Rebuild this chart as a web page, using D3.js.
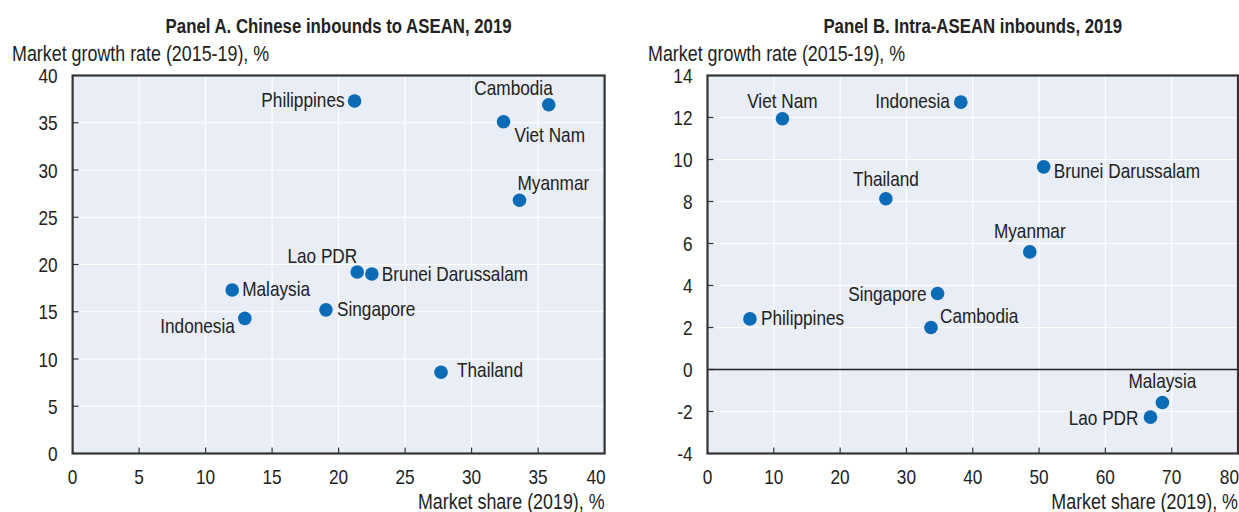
<!DOCTYPE html>
<html><head><meta charset="utf-8">
<script src="https://cdn.jsdelivr.net/npm/d3@7/dist/d3.min.js"></script>
<style>
body{margin:0;background:#fff;}
svg text{font-family:"Liberation Sans",Arial,sans-serif;fill:#222;}
</style></head>
<body><svg id="c" width="1239" height="512"></svg>
<script>
// Panel A. Chinese inbounds to ASEAN, 2019
const countriesA = ["Philippines","Cambodia","Viet Nam","Myanmar","Lao PDR","Brunei Darussalam","Malaysia","Indonesia","Singapore","Thailand"];
const shareA  = [21.2, 35.8, 32.4, 33.6, 21.4, 22.5, 12.0, 12.95, 19.05, 27.7];
const growthA = [37.3, 36.9, 35.1, 26.8, 19.2, 19.0, 17.3, 14.3, 15.2, 8.6];
const xTicksA = [0,5,10,15,20,25,30,35,40];
const yTicksA = [0,5,10,15,20,25,30,35,40];

// Panel B. Intra-ASEAN inbounds, 2019
const countriesB = ["Viet Nam","Indonesia","Brunei Darussalam","Thailand","Myanmar","Singapore","Philippines","Cambodia","Malaysia","Lao PDR"];
const shareB  = [11.3, 38.2, 50.7, 26.9, 48.6, 34.7, 6.4, 33.7, 68.6, 66.8];
const growthB = [11.94, 12.73, 9.65, 8.13, 5.6, 3.62, 2.41, 2.0, -1.57, -2.27];
const xTicksB = [0,10,20,30,40,50,60,70,80];
const yTicksB = [-4,-2,0,2,4,6,8,10,12,14];

// label placement (anchor, dx, dy) — layout only
const labA = {"Philippines":["end",-10,6],"Cambodia":["end",4,-10],"Viet Nam":["start",11,20],"Myanmar":["start",-2,-10],
  "Lao PDR":["end",0,-9],"Brunei Darussalam":["start",10,7],"Malaysia":["start",10,6],"Indonesia":["end",-10,15],
  "Singapore":["start",11,6],"Thailand":["start",16,5]};
const labB = {"Viet Nam":["middle",0,-11],"Indonesia":["end",-11,6],"Brunei Darussalam":["start",10,11],"Thailand":["middle",0,-13],
  "Myanmar":["middle",0,-14],"Singapore":["end",-11,8],"Philippines":["start",11,6],"Cambodia":["start",9,-5],
  "Malaysia":["middle",0,-14],"Lao PDR":["end",-12,8]};

const svg = d3.select("#c");
const BLUE = "#0b6bb6";
const NARROW = 0.82, FS = 21, FS_AX = 21.8, FS_T = 20.5;

function put(g, x, y, str, anchor, size, weight){
  g.append("text").attr("transform",`translate(${x},${y}) scale(${NARROW},1)`)
    .attr("text-anchor",anchor||"start").attr("font-size",size||FS).attr("font-weight",weight||"normal").text(str);
}

function panel(o){
  const g = svg.append("g");
  const x = d3.scaleLinear().domain(o.xd).range([o.left, o.right]);
  const y = d3.scaleLinear().domain(o.yd).range([o.bottom, o.top]);
  g.append("rect").attr("x",o.left).attr("y",o.top).attr("width",o.right-o.left).attr("height",o.bottom-o.top).attr("fill","#e8edf6");
  g.selectAll(".vg").data(o.xt.slice(1,-1)).join("line").attr("x1",d=>x(d)).attr("x2",d=>x(d)).attr("y1",o.top).attr("y2",o.bottom).attr("stroke","#fff").attr("stroke-width",1.2);
  g.selectAll(".hg").data(o.yt.slice(1,-1)).join("line").attr("y1",d=>y(d)).attr("y2",d=>y(d)).attr("x1",o.left).attr("x2",o.right).attr("stroke","#fff").attr("stroke-width",1.2);
  g.selectAll(".xt").data(o.xt.slice(1,-1)).join("line").attr("x1",d=>x(d)).attr("x2",d=>x(d)).attr("y1",o.bottom).attr("y2",o.bottom-6).attr("stroke","#333").attr("stroke-width",1.2);
  g.selectAll(".yt").data(o.yt.slice(1,-1)).join("line").attr("y1",d=>y(d)).attr("y2",d=>y(d)).attr("x1",o.left).attr("x2",o.left+6).attr("stroke","#333").attr("stroke-width",1.2);
  if (o.yd[0] < 0) g.append("line").attr("x1",o.left).attr("x2",o.right).attr("y1",y(0)).attr("y2",y(0)).attr("stroke","#222").attr("stroke-width",1.6);
  g.append("rect").attr("x",o.left).attr("y",o.top).attr("width",o.right-o.left).attr("height",o.bottom-o.top).attr("fill","none").attr("stroke","#333").attr("stroke-width",2.2);
  // tick labels
  o.xt.forEach((d,i)=>{ const last = i===o.xt.length-1;
    put(g, last ? x(d)+1 : x(d), o.bottom+30.5, d, last ? "end":"middle"); });
  o.yt.forEach(d=> put(g, o.left-15, y(d)+7.5, d, "end"));
  // titles
  put(g, (o.left+o.right)/2, 32.5, o.title, "middle", FS_T, "bold");
  put(g, o.ytx, 60.5, "Market growth rate (2015-19), %", "start", FS_AX);
  put(g, o.right, 509, "Market share (2019), %", "end", FS_AX);
  // points
  const pts = o.names.map((n,i)=>({n, xv:o.xs[i], yv:o.ys[i]}));
  g.selectAll(".pt").data(pts).join("circle").attr("cx",d=>x(d.xv)).attr("cy",d=>y(d.yv)).attr("r",6.8).attr("fill",BLUE);
  pts.forEach(d=> put(g, x(d.xv)+o.lab[d.n][1], y(d.yv)+o.lab[d.n][2], d.n, o.lab[d.n][0]));
}

panel({left:72.6,right:604.6,top:75.5,bottom:453.5,xd:[0,40],yd:[0,40],xt:xTicksA,yt:yTicksA,
  names:countriesA,xs:shareA,ys:growthA,lab:labA,title:"Panel A. Chinese inbounds to ASEAN, 2019",ytx:12});
panel({left:707.5,right:1238,top:75.5,bottom:453.5,xd:[0,80],yd:[-4,14],xt:xTicksB,yt:yTicksB,
  names:countriesB,xs:shareB,ys:growthB,lab:labB,title:"Panel B. Intra-ASEAN inbounds, 2019",ytx:648});
</script></body></html>
